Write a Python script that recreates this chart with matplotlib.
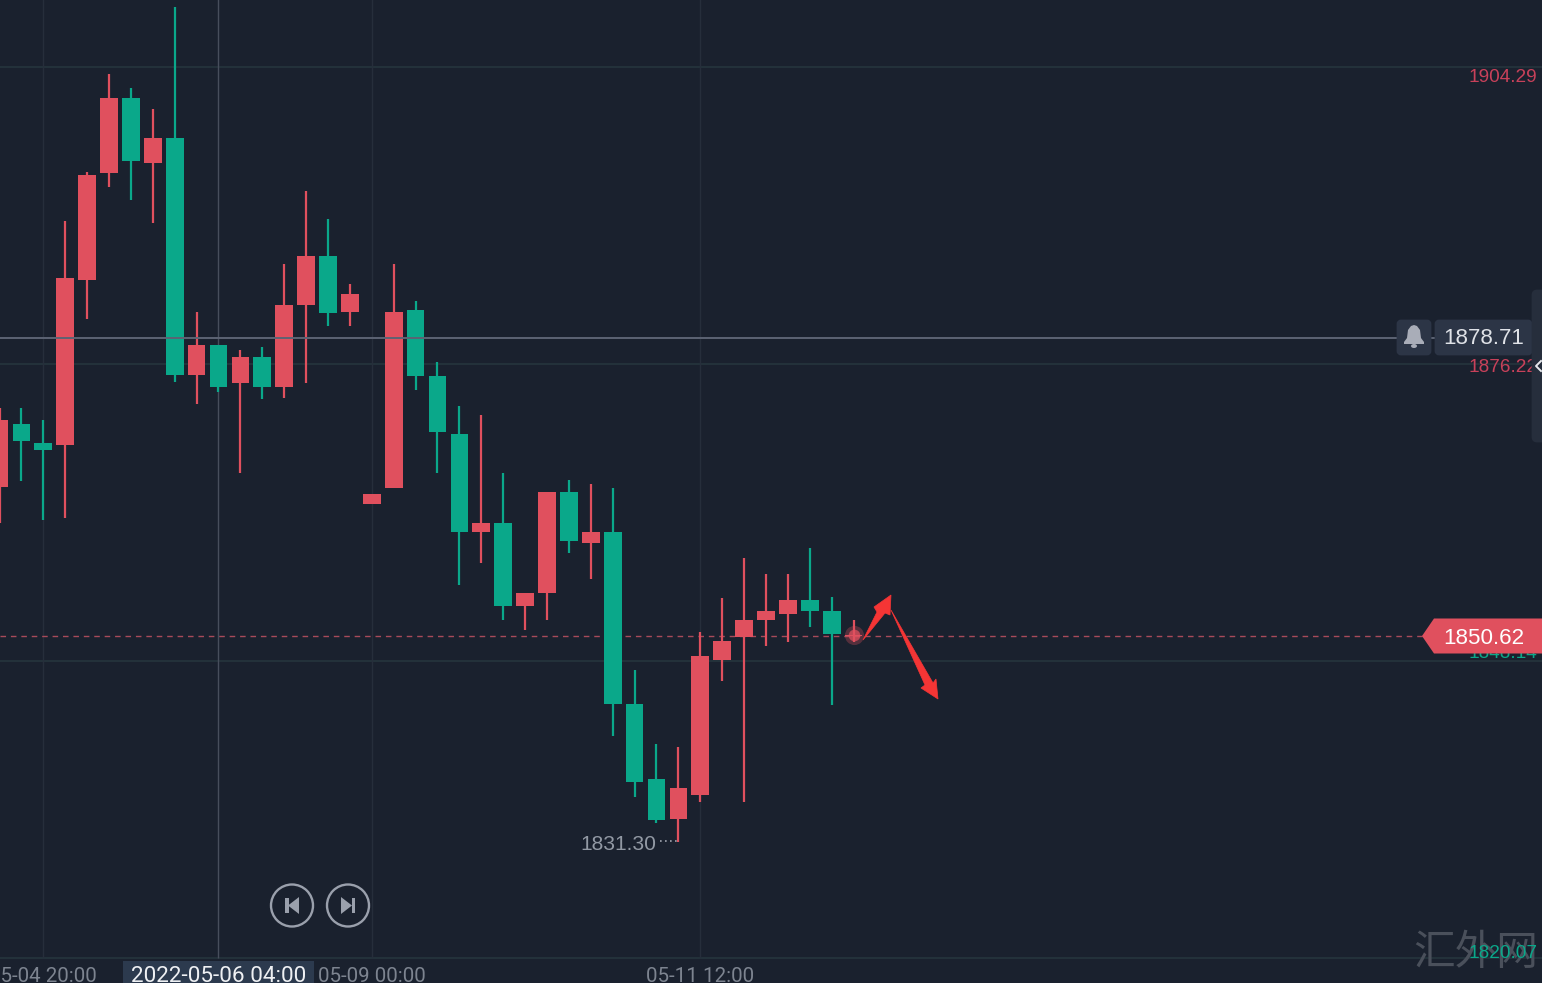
import numpy as np
import matplotlib.pyplot as plt
from matplotlib.patches import Circle, FancyBboxPatch, Polygon, Rectangle, Ellipse

# Candles, oldest first
opens = [1864.59, 1870.55, 1868.75, 1868.56, 1884.16, 1894.27, 1901.36, 1895.22, 1897.58, 1875.18,
         1878.01, 1874.42, 1876.88, 1874.04, 1881.79, 1886.43, 1881.13, 1862.99, 1864.50, 1881.32,
         1875.08, 1869.60, 1860.34, 1861.19, 1853.34, 1854.57, 1864.12, 1859.30, 1860.34, 1844.08,
         1836.99, 1833.21, 1835.48, 1848.24, 1850.41, 1852.02, 1852.59, 1853.91, 1852.87, 1850.50]
closes = [1870.93, 1868.94, 1868.09, 1884.35, 1894.08, 1901.36, 1895.41, 1897.58, 1875.18, 1878.01,
          1874.04, 1876.88, 1874.04, 1881.79, 1886.43, 1881.04, 1882.83, 1863.93, 1881.13, 1875.08,
          1869.79, 1860.34, 1861.19, 1853.34, 1854.57, 1864.12, 1859.49, 1860.34, 1844.08, 1836.71,
          1833.12, 1836.14, 1848.62, 1850.04, 1852.02, 1852.87, 1853.91, 1852.87, 1850.70, 1850.62]
highs = [1872.06, 1872.06, 1870.93, 1889.73, 1894.37, 1903.63, 1902.31, 1900.32, 1909.96, 1881.13,
         1878.01, 1877.54, 1877.82, 1885.67, 1892.57, 1889.92, 1883.78, 1863.93, 1885.67, 1882.17,
         1876.41, 1872.25, 1871.40, 1865.92, 1854.57, 1864.12, 1865.25, 1864.88, 1864.50, 1847.30,
         1840.30, 1840.02, 1850.89, 1854.10, 1857.88, 1856.37, 1856.37, 1858.83, 1854.20, 1852.02]
lows = [1861.19, 1865.16, 1861.47, 1861.66, 1880.47, 1892.95, 1891.72, 1889.55, 1874.52, 1872.44,
        1873.57, 1865.92, 1872.91, 1873.00, 1874.42, 1879.81, 1879.81, 1862.99, 1864.50, 1873.76,
        1865.92, 1855.33, 1857.41, 1852.02, 1851.08, 1852.02, 1858.35, 1855.90, 1841.06, 1835.29,
        1832.83, 1831.04, 1834.82, 1846.26, 1834.82, 1849.56, 1849.94, 1851.36, 1843.99, 1849.94]

# Price axis labels and time axis labels
grid_prices = [1904.29, 1876.22, 1848.14, 1820.07]
grid_labels = ["1904.29", "1876.22", "1848.14", "1820.07"]
grid_colors = ["#c8415a", "#c8415a", "#0aa88a", "#0aa88a"]
time_idx = [2, 17, 32]
time_labels = ["05-04 20:00", "05-09 00:00", "05-11 12:00"]
cursor_idx = 10
cursor_label = "2022-05-06 04:00"
cursor_price = 1878.71
last_price = 1850.62
low_label = "1831.30"

BG = "#1a212e"
RED = "#e0505e"
GREEN = "#0aa88a"
TEXT = "#7d8490"

plt.rcParams['font.family'] = ['Liberation Sans', 'DejaVu Sans']

fig = plt.figure(figsize=(15.42, 9.83), dpi=100, facecolor=BG)
ax = fig.add_axes([0, 0, 1, 1], facecolor=BG)
ax.set_xlim(0.0227, 70.437)
ax.set_ylim(1817.71, 1910.62)
ax.axis('off')

idx = np.arange(len(opens))
o = np.array(opens)
c = np.array(closes)
colors = [RED if b >= a else GREEN for a, b in zip(opens, closes)]

# Grid
ax.hlines(grid_prices, 0, 71, color="#25333c", lw=1.3, zorder=1)
ax.vlines(time_idx, grid_prices[-1], 1911, color="#262e3b", lw=1, zorder=1)

# Candles
ax.vlines(idx, lows, highs, color=colors, lw=1.6, zorder=3)
ax.bar(idx, np.abs(c - o), bottom=np.minimum(o, c), width=0.81, color=colors, zorder=4)

# Crosshair and last price line
ax.vlines(cursor_idx, grid_prices[-1], 1911, color="#474e5c", lw=1, zorder=2)
ax.hlines(cursor_price, 0, 71, color="#5c6373", lw=1.4, zorder=5)
ax.hlines(last_price - 0.08, 0, 65, color="#a84a5a", lw=1.0, linestyles=(0, (4, 3.5)), zorder=2)

# Pulse on the running candle
ax.scatter([idx[-1]], [last_price], s=190, color=RED, alpha=0.3, lw=0, zorder=6)
ax.scatter([idx[-1]], [last_price], s=70, color=RED, alpha=0.75, lw=0, zorder=7)

# UI overlay in pixels
ui = fig.add_axes([0, 0, 1, 1], facecolor='none')
ui.set_xlim(0, 1542)
ui.set_ylim(983, 0)
ui.axis('off')

# Watermark
ui.text(1475.5, 953, "汇外网", fontsize=30, color="#4a505b", ha='center', va='center',
        family=['Noto Sans CJK SC', 'DejaVu Sans'], weight='light', zorder=1)

# Price labels
label_y = [78, 368, 654, 953]
for y, s, col in zip(label_y, grid_labels, grid_colors):
    ui.text(1537.5, y, s, fontsize=13.7, color=col, ha='right', va='center', zorder=2)

# Time labels
for i, s in zip(time_idx, time_labels):
    px = ax.transData.transform((i, 0))[0]
    ui.text(px, 977, s, fontsize=14.75, color=TEXT, ha='center', va='center', family='Roboto', zorder=2)
ui.add_patch(Rectangle((123, 961), 191, 22, color="#2c3a4e", lw=0, zorder=3))
ui.text(218.5, 977, cursor_label, fontsize=16.2, color="#eef0f3", ha='center', va='center', family='Roboto', zorder=4)

# Low marker
ui.plot([660, 679], [841, 841], color="#a0a5af", lw=1.2, ls=(0, (1, 2)), zorder=3)
ui.text(656, 845, low_label, fontsize=15.1, color="#9299a4", ha='right', va='center', zorder=3)

# Arrows
ui.add_patch(Polygon([(863, 640), (877, 612), (874, 607), (891, 595), (890, 615), (885, 613)],
                     color="#f53535", lw=0.5, zorder=8))
ui.add_patch(Polygon([(891, 610), (933, 683), (936, 679), (938, 699), (921, 688), (925, 685)],
                     color="#f53535", lw=0.5, zorder=8))

# Replay buttons
for cx in (292, 348):
    ui.add_patch(Circle((cx, 905.5), 21, fc='none', ec="#9aa0ac", lw=1.7, zorder=3))
ui.add_patch(Rectangle((285, 898), 3.5, 15, color="#9aa0ac", lw=0, zorder=3))
ui.add_patch(Polygon([(299, 897), (288, 905.5), (299, 914)], color="#9aa0ac", lw=0, zorder=3))
ui.add_patch(Polygon([(341, 897), (352, 905.5), (341, 914)], color="#9aa0ac", lw=0, zorder=3))
ui.add_patch(Rectangle((351.5, 898), 3.5, 15, color="#9aa0ac", lw=0, zorder=3))

# Alert bell box and cursor price box
ui.add_patch(FancyBboxPatch((1398, 321), 32, 33, boxstyle="round,pad=0,rounding_size=3", fc="#2c3546", ec="#2c3546", lw=2, zorder=6))
ui.add_patch(FancyBboxPatch((1436, 321), 95, 33, boxstyle="round,pad=0,rounding_size=3", fc="#2c3546", ec="#2c3546", lw=2, zorder=6))
ui.add_patch(Polygon([(1404, 344), (1404, 342), (1407, 338), (1408, 330), (1411, 326), (1414, 325), (1417, 326),
                      (1420, 330), (1421, 338), (1424, 342), (1424, 344)], color="#a9adb8", lw=0, zorder=7))
ui.add_patch(Ellipse((1414, 346), 6, 4, color="#a9adb8", lw=0, zorder=7))
ui.text(1483.5, 339, f"{cursor_price:.2f}", fontsize=16.1, color="#dfe2e7", ha='center', va='center', zorder=7)

# Right side panel
ui.add_patch(FancyBboxPatch((1533, 291), 20, 150, boxstyle="round,pad=0,rounding_size=4", fc="#262e3c", ec="#262e3c", lw=2, zorder=6))
ui.plot([1541, 1536, 1541], [361, 366, 371], color="#e6e8ec", lw=1.4, zorder=7)

# Last price tag
ui.add_patch(Polygon([(1422, 636), (1434, 618.5), (1542, 618.5), (1542, 653.5), (1434, 653.5)], color=RED, lw=0, zorder=6))
ui.text(1484, 638, f"{last_price:.2f}", fontsize=16.1, color="white", ha='center', va='center', zorder=7)

fig.savefig("out.png", dpi=100, facecolor=BG)
